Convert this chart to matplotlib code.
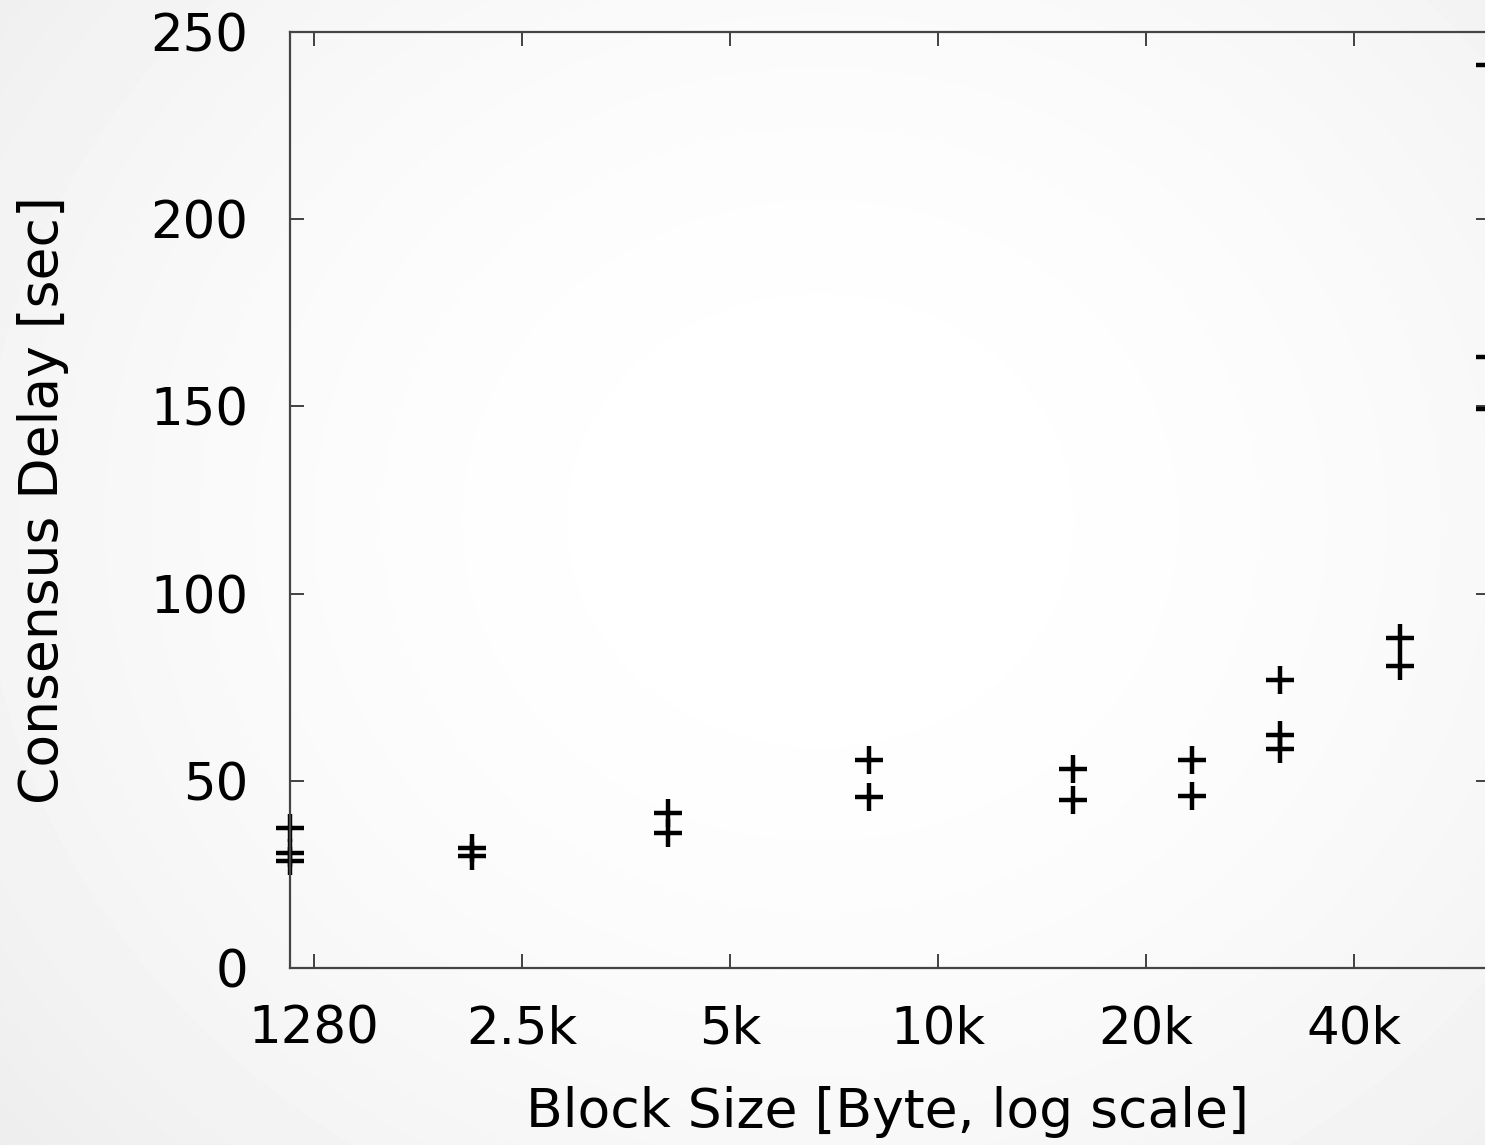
import numpy as np
import matplotlib.pyplot as plt
from matplotlib.ticker import FixedLocator, NullLocator

# Data (block size in bytes, delay in seconds)
block_size = [1182, 1182, 1182,
              2167, 2167,
              4165, 4165,
              8137, 8137,
              16053, 16053,
              23875, 23875,
              32000, 32000, 32000,
              47750, 47750,
              64500, 64500, 64500]
delay = [37.4, 30.8, 28.6,
         32.1, 29.9,
         41.3, 36.0,
         55.6, 45.6,
         53.1, 44.9,
         55.6, 45.9,
         76.9, 62.2, 58.5,
         88.1, 80.7,
         241.2, 163.1, 149.3]

x_ticks = [1280, 2560, 5120, 10240, 20480, 40960]
x_tick_labels = ['1280', '2.5k', '5k', '10k', '20k', '40k']
y_ticks = [0, 50, 100, 150, 200, 250]

W, H = 1485, 1145
fig = plt.figure(figsize=(W / 100, H / 100), dpi=100)

# light radial background
bg = fig.add_axes([0, 0, 1, 1], zorder=-10)
yy, xx = np.mgrid[0:H, 0:W]
r = np.sqrt(((xx - 820) / 950.0) ** 2 + ((yy - 520) / 850.0) ** 2)
shade = 1.0 - 0.055 * np.clip(r, 0, 1.3) ** 2
bg.imshow(shade, cmap='gray', vmin=0, vmax=1, aspect='auto', extent=[0, 1, 0, 1])
bg.axis('off')

# right border sits just past the image edge, as in the cropped original
ax = fig.add_axes([290 / W, (H - 968) / H, (1490 - 290) / W, 936 / H])
ax.set_facecolor('none')
ax.plot(block_size, delay, linestyle='none', marker='+', color='black',
        markersize=20, markeredgewidth=3.2, clip_on=False)

ax.set_xscale('log')
ax.set_xlim(min(block_size), max(block_size))
ax.set_ylim(0, 250)
ax.xaxis.set_major_locator(FixedLocator(x_ticks))
ax.xaxis.set_minor_locator(NullLocator())
ax.set_xticklabels(x_tick_labels)
ax.set_yticks(y_ticks)

ax.tick_params(direction='in', length=10, width=1.3, color='#333333',
               top=True, right=True, labelsize=37, pad=26)
ax.tick_params(axis='y', pad=30)
for s in ax.spines.values():
    s.set_linewidth(1.6)
    s.set_color('#444444')

fig.text(888 / W, 1 - 1112 / H, 'Block Size [Byte, log scale]',
         fontsize=38.5, ha='center', va='center')
fig.text(43 / W, 1 - 500 / H, 'Consensus Delay [sec]',
         fontsize=38.5, ha='center', va='center', rotation=90)

fig.savefig('out.png', dpi=100)
